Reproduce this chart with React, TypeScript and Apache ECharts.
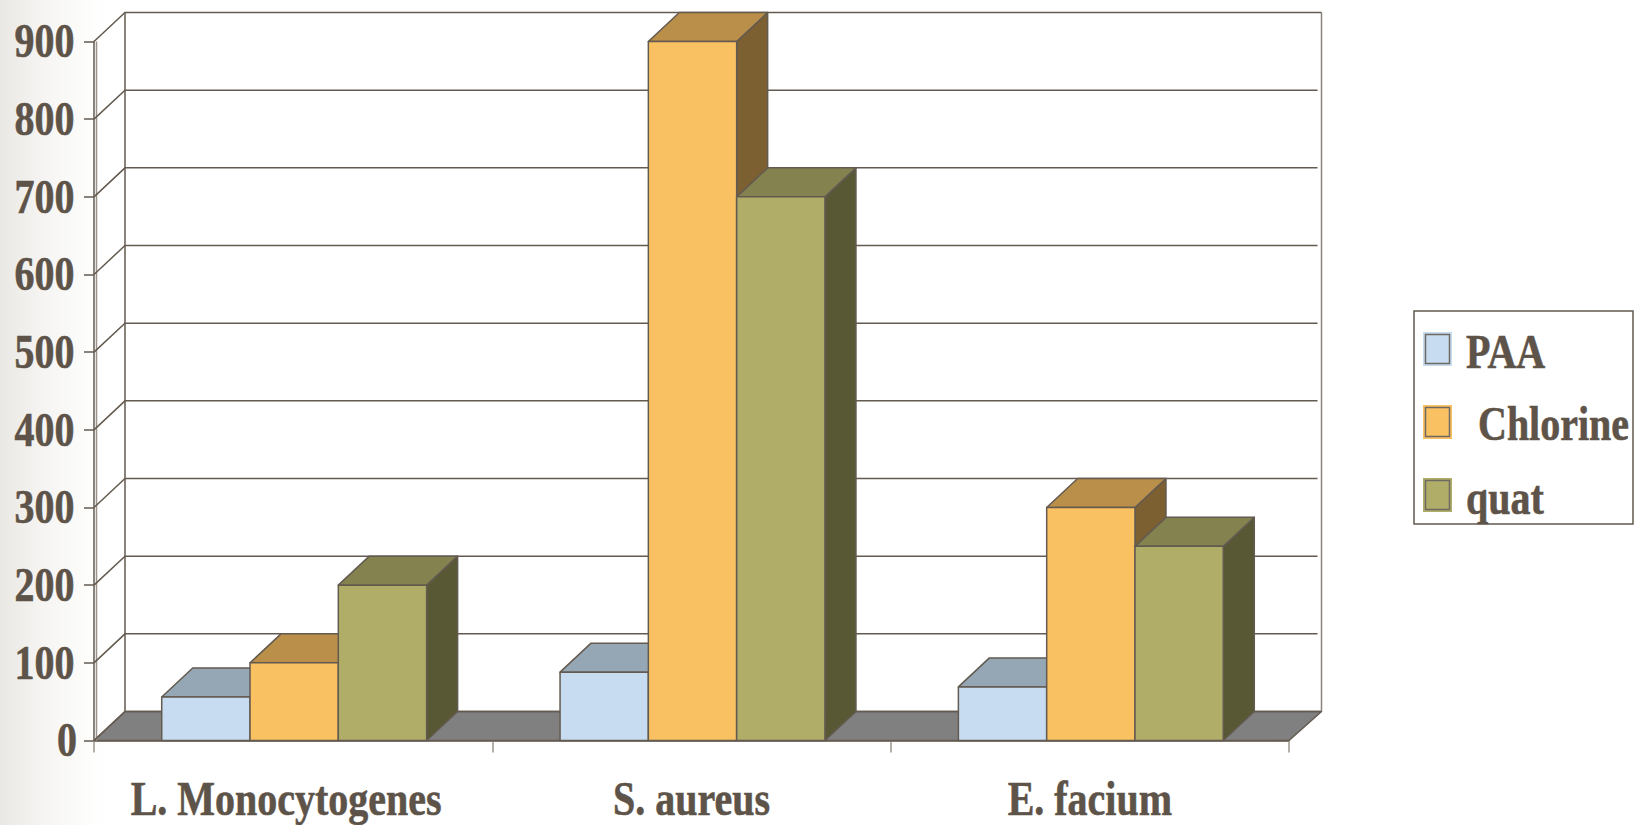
import React, { useEffect, useRef } from "react";
import * as echarts from "echarts";

const categories = ["L. Monocytogenes", "S. aureus", "E. facium"];
const seriesNames = ["PAA", "Chlorine", "quat"];
const paaValues = [56, 88, 69];
const chlorineValues = [100, 900, 300];
const quatValues = [200, 700, 250];
const yTicks = [0, 100, 200, 300, 400, 500, 600, 700, 800, 900];

const frontColors = ["#C7DCF0", "#FAC163", "#B0AD69"];
const topColors = ["#95A6B5", "#BA8F4A", "#84824F"];
const sideColors = ["#63707C", "#7D6032", "#585835"];
const edgeColor = "#635A50";
const textColor = "#5D5349";
const DX = 31;
const DY = -29;
const FONT = { fontFamily: '"Liberation Serif"', fontSize: 40, fontWeight: "bold" as const };
const STRETCH = 1.2;

function poly(points: number[][], fill: string | undefined, stroke: string, lineWidth = 1.5) {
  return { type: "polygon", shape: { points }, style: { fill, stroke, lineWidth, lineJoin: "round" } };
}

function barSeries(index: number, values: number[]) {
  return {
    type: "custom",
    name: seriesNames[index],
    coordinateSystem: "cartesian2d",
    z: 3 + index,
    silent: true,
    encode: { x: 0, y: 1 },
    data: values.map((v, i) => [i, v]),
    renderItem: (_p: any, api: any) => {
      const band = api.size([1, 0])[0];
      const groupW = band * 0.665;
      const barW = groupW / 3;
      const base = api.coord([api.value(0), 0]);
      const top = api.coord([api.value(0), api.value(1)]);
      const x0 = base[0] + 1 - groupW / 2 + index * barW;
      const x1 = x0 + barW;
      return {
        type: "group",
        children: [
          poly([[x1, top[1]], [x1 + DX, top[1] + DY], [x1 + DX, base[1] + DY], [x1, base[1]]], sideColors[index], edgeColor),
          poly([[x0, top[1]], [x0 + DX, top[1] + DY], [x1 + DX, top[1] + DY], [x1, top[1]]], topColors[index], edgeColor),
          poly([[x0, top[1]], [x1, top[1]], [x1, base[1]], [x0, base[1]]], frontColors[index], edgeColor),
        ],
      };
    },
  };
}

const stretchedText = (x: number, y: number, text: string, align: string) => ({
  type: "text",
  x,
  y,
  scaleY: STRETCH,
  style: {
    text,
    x: 0,
    y: 0,
    fill: textColor,
    stroke: textColor,
    lineWidth: 0.5,
    ...FONT,
    align,
    textAlign: align,
    verticalAlign: "middle",
    textVerticalAlign: "middle",
  },
});

function buildOption() {
  const legendRows = [
    { top: 332, textY: 352.5, textX: 1466 },
    { top: 405, textY: 424.5, textX: 1478 },
    { top: 478, textY: 498, textX: 1466 },
  ];
  const legendGraphic: any[] = [
    {
      type: "rect",
      shape: { x: 1414, y: 311, width: 219, height: 213 },
      style: { fill: "#fff", stroke: edgeColor, lineWidth: 1.5 },
      z: 1,
    },
  ];
  legendRows.forEach((row, i) => {
    legendGraphic.push(
      { type: "rect", z: 2, shape: { x: 1423, y: row.top, width: 29, height: 34 }, style: { fill: frontColors[i] } },
      {
        type: "rect",
        z: 3,
        shape: { x: 1425.5, y: row.top + 2.5, width: 24, height: 29 },
        style: { fill: frontColors[i], stroke: "#6E6A62", lineWidth: 1.5 },
      },
      { ...stretchedText(row.textX, row.textY, seriesNames[i], "left"), z: 3 }
    );
  });

  return {
    animation: false,
    backgroundColor: "transparent",
    graphic: { elements: legendGraphic },
    grid: { left: 94, right: 356, top: 41.5, bottom: 84.5, containLabel: false },
    xAxis: {
      type: "category",
      data: categories,
      axisLine: { show: true, lineStyle: { color: edgeColor, width: 1.5 } },
      axisTick: { show: true, length: 12, lineStyle: { color: "#9A948C", width: 1.5 } },
      axisLabel: { show: false },
      splitLine: { show: false },
    },
    yAxis: {
      type: "value",
      min: 0,
      max: 900,
      interval: 100,
      axisLine: { show: true, lineStyle: { color: edgeColor, width: 1.5 } },
      axisTick: { show: true, length: 10, lineStyle: { color: edgeColor, width: 1.5 } },
      axisLabel: { show: false },
      splitLine: { show: false },
    },
    series: [
      {
        type: "custom",
        name: "walls",
        coordinateSystem: "cartesian2d",
        z: 1,
        silent: true,
        encode: { x: 0, y: 1 },
        data: yTicks.map((t) => [0, t]),
        renderItem: (p: any, api: any) => {
          const left = p.coordSys.x;
          const right = p.coordSys.x + p.coordSys.width;
          const v = api.value(1);
          const y = api.coord([0, v])[1];
          const yTop = api.coord([0, yTicks[yTicks.length - 1]])[1];
          const isTop = v === yTicks[yTicks.length - 1];
          const lineEnd = isTop || v === 0 ? right + DX + 1.5 : right + DX - 2.5;
          const children: any[] = [
            {
              type: "polyline",
              shape: { points: [[left, y], [left + DX, y + DY], [lineEnd, y + DY]] },
              style: { fill: "none", stroke: edgeColor, lineWidth: 1.5 },
            },
          ];
          if (v === 0) {
            children.unshift(
              poly([[left, y], [left + DX, y + DY], [right + DX + 1.5, y + DY], [right, y]], "#808080", edgeColor),
              {
                type: "line",
                shape: { x1: left + DX, y1: y + DY, x2: left + DX, y2: yTop + DY },
                style: { stroke: edgeColor, lineWidth: 1.5 },
              },
              {
                type: "line",
                shape: { x1: right + DX + 1.5, y1: y + DY, x2: right + DX + 1.5, y2: yTop + DY },
                style: { stroke: "#8A847C", lineWidth: 1.5 },
              },
              {
                type: "line",
                shape: { x1: left + 2.5, y1: y, x2: left + 2.5, y2: yTop },
                style: { stroke: "#9A948C", lineWidth: 1.5 },
              }
            );
          }
          return { type: "group", children };
        },
      },
      barSeries(0, paaValues),
      barSeries(1, chlorineValues),
      barSeries(2, quatValues),
      {
        type: "custom",
        name: "value labels",
        coordinateSystem: "cartesian2d",
        z: 6,
        silent: true,
        encode: { x: 0, y: 1 },
        data: yTicks.map((t) => [0, t]),
        renderItem: (p: any, api: any) => {
          const v = api.value(1);
          const y = api.coord([0, v])[1];
          return stretchedText(p.coordSys.x - (v === 0 ? 17 : 19.5), y, String(v), "right");
        },
      },
      {
        type: "custom",
        name: "category labels",
        coordinateSystem: "cartesian2d",
        z: 6,
        silent: true,
        encode: { x: 0, y: 1 },
        data: categories.map((_c, i) => [i, 0]),
        renderItem: (_p: any, api: any) => {
          const i = api.value(0);
          const c = api.coord([i, 0]);
          return stretchedText(c[0] - (i === 0 ? 7 : 0), c[1] + 59, categories[i], "center");
        },
      },
    ],
  };
}

export default function App() {
  const ref = useRef<HTMLDivElement>(null);
  useEffect(() => {
    const chart = echarts.init(ref.current!, undefined, { renderer: "svg" });
    chart.setOption(buildOption() as any);
    return () => chart.dispose();
  }, []);
  return (
    <div
      ref={ref}
      style={{
        position: "absolute",
        left: 0,
        top: 0,
        width: 1645,
        height: 825,
        background: "linear-gradient(to right, #E9E8E4 0px, #F6F5F3 45px, #FDFDFC 90px, #FFFFFF 108px)",
      }}
    />
  );
}
